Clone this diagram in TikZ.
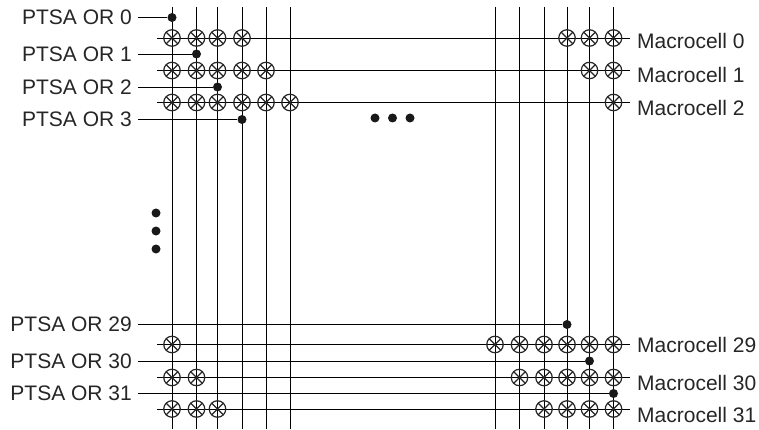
\documentclass[tikz,border=0pt]{standalone}
\usepackage{fontspec}
\setmainfont{Liberation Sans}
\usepackage{tikz}
\begin{document}
\begin{tikzpicture}[
    x=1pt,y=-1pt,
    wire/.style={line width=0.95pt,draw=black},
    xing/.style={circle,draw=black!85,line width=1.2pt,minimum size=16.5pt,inner sep=0pt,
                 path picture={\draw[line width=1.1pt,draw=black!85]
                   (path picture bounding box.north west) -- (path picture bounding box.south east)
                   (path picture bounding box.north east) -- (path picture bounding box.south west);}},
    blob/.style={circle,fill=black!90,minimum size=9pt,inner sep=0pt},
    orlabel/.style={anchor=east,inner sep=0pt,inner xsep=6pt,font=\fontsize{21}{24}\selectfont,text=black!85},
    celllabel/.style={anchor=west,inner sep=0pt,inner xsep=7pt,font=\fontsize{21}{24}\selectfont,text=black!85}
  ]
    \useasboundingbox (0,0) rectangle (759,430);
    % product term columns
    \foreach \c/\xc in {1/172,2/196.5,3/217.5,4/242,5/266,6/290,7/495,8/519.5,9/544,10/567,11/589.5,12/613.5} {
      \coordinate (c\c) at (\xc,7);
      \coordinate (b\c) at (\xc,429);
      \draw[wire] (c\c) -- (b\c);
    }
    % macrocell rows
    \foreach \r/\yr/\yl/\cols in {0/38/41/{1,2,3,4,10,11,12},1/70.5/75/{1,2,3,4,5,11,12},2/102.5/108/{1,2,3,4,5,6,12},
                                  29/344.5/345/{1,7,8,9,10,11,12},30/377.5/383/{1,2,8,9,10,11,12},31/409/415/{1,2,3,9,10,11,12}} {
      \coordinate (r\r) at (157,\yr);
      \coordinate (e\r) at (630,\yr);
      \draw[wire] (r\r) -- (e\r);
      \node[celllabel] (m\r) at (630,\yl) {Macrocell \r};
      \foreach \c in \cols {
        \node[xing] (x\r-\c) at (c\c |- r\r) {};
      }
    }
    % PTSA OR rows
    \foreach \p/\yp/\c in {0/17.5/1,1/54/2,2/87/3,3/119.5/4,29/324.5/10,30/361/11,31/393.5/12} {
      \node[orlabel] (or\p) at (138,\yp) {PTSA OR \p};
      \node[blob] (d\p) at (c\c |- or\p) {};
      \draw[wire] (or\p.east) -- (d\p);
    }
    % ellipses
    \foreach \n/\xd/\yd in {1/375/118,2/392.5/118,3/410/118,4/156/213,5/156/231,6/156/249} {
      \node[blob] (dots\n) at (\xd,\yd) {};
    }
  \end{tikzpicture}
\end{document}
